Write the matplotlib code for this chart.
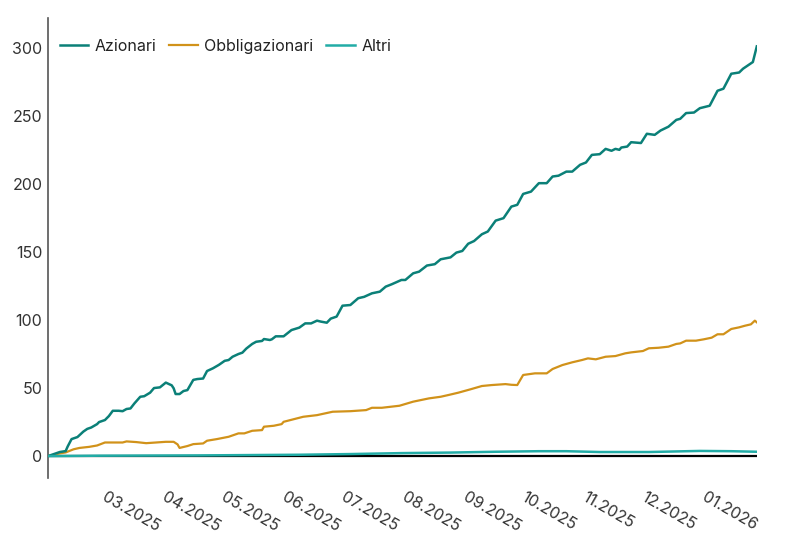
import matplotlib
matplotlib.use('Agg')
import matplotlib.pyplot as plt
import matplotlib.dates as mdates
import pandas as pd

plt.rcParams['font.family'] = ['Inter', 'DejaVu Sans']

#### DATA ####

az_dates = ['2025-02-03', '2025-02-09', '2025-02-12', '2025-02-13', '2025-02-15', '2025-02-18',
            '2025-02-21', '2025-02-23', '2025-02-25', '2025-02-28', '2025-03-01', '2025-03-04',
            '2025-03-06', '2025-03-08', '2025-03-11', '2025-03-13', '2025-03-15', '2025-03-17',
            '2025-03-19', '2025-03-22', '2025-03-24', '2025-03-27', '2025-03-29', '2025-04-01',
            '2025-04-04', '2025-04-07', '2025-04-08', '2025-04-09', '2025-04-11', '2025-04-13',
            '2025-04-15', '2025-04-18', '2025-04-20', '2025-04-23', '2025-04-25', '2025-04-28',
            '2025-05-01', '2025-05-04', '2025-05-06', '2025-05-08', '2025-05-11', '2025-05-13',
            '2025-05-15', '2025-05-18', '2025-05-20', '2025-05-23', '2025-05-24', '2025-05-27',
            '2025-05-28', '2025-05-30', '2025-06-03', '2025-06-07', '2025-06-11', '2025-06-14',
            '2025-06-17', '2025-06-20', '2025-06-22', '2025-06-25', '2025-06-27', '2025-06-30',
            '2025-07-03', '2025-07-07', '2025-07-11', '2025-07-14', '2025-07-18', '2025-07-22',
            '2025-07-25', '2025-07-28', '2025-08-02', '2025-08-04', '2025-08-08', '2025-08-11',
            '2025-08-15', '2025-08-19', '2025-08-22', '2025-08-27', '2025-08-30', '2025-09-02',
            '2025-09-05', '2025-09-08', '2025-09-12', '2025-09-15', '2025-09-19', '2025-09-23',
            '2025-09-27', '2025-09-30', '2025-10-03', '2025-10-07', '2025-10-11', '2025-10-15',
            '2025-10-18', '2025-10-21', '2025-10-25', '2025-10-28', '2025-11-01', '2025-11-04',
            '2025-11-07', '2025-11-11', '2025-11-14', '2025-11-17', '2025-11-19', '2025-11-21',
            '2025-11-22', '2025-11-25', '2025-11-27', '2025-12-02', '2025-12-05', '2025-12-09',
            '2025-12-12', '2025-12-16', '2025-12-20', '2025-12-22', '2025-12-25', '2025-12-29',
            '2026-01-01', '2026-01-06', '2026-01-10', '2026-01-13', '2026-01-17', '2026-01-21',
            '2026-01-23', '2026-01-28', '2026-01-30']
azionari = [0, 3, 3.7, 7, 12.5, 14,
            18, 20, 21, 23.5, 25, 26.5,
            29.4, 33.3, 33.3, 33, 34.6, 35,
            38.7, 43.6, 44, 46.6, 50, 50.5,
            54, 52, 49.8, 45.6, 45.6, 47.8,
            48.5, 56, 56.6, 57, 62.5, 64.5,
            67, 70, 70.6, 73, 75, 76,
            79, 82.4, 84, 84.6, 86, 85.3,
            85.8, 88, 88, 92.6, 94.4, 97.5,
            97.5, 99.5, 98.8, 98, 101, 102.5,
            110.5, 111, 116, 117, 119.6, 120.8,
            124.5, 126.2, 129.4, 129.4, 134.3, 135.5,
            140, 141, 144.6, 146, 149.5, 150.7,
            156, 158, 163, 165, 173, 174.8,
            183.3, 184.6, 192.6, 194.3, 200.5, 200.5,
            205.4, 206, 209, 209, 214, 215.7,
            221.3, 221.8, 225.7, 224.3, 225.7, 225,
            226.7, 227.4, 230.6, 230, 236.8, 236,
            239.2, 242, 247, 247.8, 252, 252.4,
            255.6, 257.4, 268.4, 269.9, 280.9, 281.8,
            284.6, 289.5, 301]

ob_dates = ['2025-02-03', '2025-02-09', '2025-02-12', '2025-02-16', '2025-02-19', '2025-02-24',
            '2025-02-28', '2025-03-04', '2025-03-08', '2025-03-13', '2025-03-15', '2025-03-20',
            '2025-03-25', '2025-03-30', '2025-04-04', '2025-04-08', '2025-04-10', '2025-04-11',
            '2025-04-15', '2025-04-18', '2025-04-23', '2025-04-25', '2025-04-30', '2025-05-06',
            '2025-05-11', '2025-05-14', '2025-05-18', '2025-05-23', '2025-05-24', '2025-05-29',
            '2025-06-02', '2025-06-03', '2025-06-13', '2025-06-20', '2025-06-28', '2025-07-07',
            '2025-07-15', '2025-07-18', '2025-07-23', '2025-08-01', '2025-08-08', '2025-08-16',
            '2025-08-22', '2025-08-26', '2025-08-31', '2025-09-06', '2025-09-12', '2025-09-17',
            '2025-09-24', '2025-09-27', '2025-09-30', '2025-10-03', '2025-10-09', '2025-10-15',
            '2025-10-18', '2025-10-23', '2025-10-28', '2025-11-02', '2025-11-05', '2025-11-09',
            '2025-11-14', '2025-11-19', '2025-11-24', '2025-11-27', '2025-12-03', '2025-12-06',
            '2025-12-11', '2025-12-16', '2025-12-20', '2025-12-22', '2025-12-25', '2025-12-30',
            '2026-01-03', '2026-01-07', '2026-01-10', '2026-01-13', '2026-01-17', '2026-01-21',
            '2026-01-24', '2026-01-27', '2026-01-29', '2026-01-30']
obbligazionari = [0, 2, 2.7, 5, 6, 6.8,
                  7.8, 10, 10, 10, 10.8, 10.3,
                  9.5, 10, 10.5, 10.5, 8.6, 6,
                  7.4, 8.8, 9.3, 11.3, 12.5, 14.2,
                  16.7, 16.7, 18.6, 19.1, 21.6, 22.3,
                  23.5, 25.2, 28.9, 30.1, 32.6, 33,
                  33.8, 35.5, 35.5, 37, 40, 42.4,
                  43.6, 44.9, 46.6, 49, 51.5, 52.2,
                  52.9, 52.4, 52.2, 59.6, 60.8, 60.8,
                  64, 66.9, 68.9, 70.6, 71.8, 71.1,
                  73, 73.5, 75.5, 76.2, 77.2, 79.2,
                  79.6, 80.4, 82.4, 82.8, 84.8, 84.8,
                  85.8, 87, 89.5, 89.5, 93.4, 94.6,
                  95.8, 96.8, 99.5, 98.3]

al_dates = ['2025-02-03', '2025-03-01', '2025-04-20', '2025-06-11', '2025-07-07', '2025-08-02',
            '2025-08-27', '2025-09-19', '2025-10-11', '2025-10-25', '2025-11-11', '2025-12-06',
            '2026-01-01', '2026-01-17', '2026-01-30']
altri = [0, 0.3, 0.5, 1.0, 1.5, 2.2,
         2.6, 3.2, 3.6, 3.6, 3.0, 3.0,
         3.8, 3.6, 3.2]

series_names = ['Azionari', 'Obbligazionari', 'Altri']
colors = ['#0b8078', '#d1921a', '#22aca6']
yticks = [0, 50, 100, 150, 200, 250, 300]

#### PLOT ####

fig = plt.figure(figsize=(8, 5.56), dpi=100)
ax = fig.add_axes([0.06, 0.14, 0.886, 0.828])

az_x = pd.to_datetime(az_dates)
ob_x = pd.to_datetime(ob_dates)
al_x = pd.to_datetime(al_dates)

ax.plot(az_x, azionari, c=colors[0], lw=1.8, label=series_names[0], zorder=4)
ax.plot(ob_x, obbligazionari, c=colors[1], lw=1.6, label=series_names[1], zorder=3)
ax.plot(al_x, altri, c=colors[2], lw=1.8, label=series_names[2], zorder=5)

# zero line
ax.plot([az_x[0], az_x[-1]], [0, 0], c='k', lw=1.6, zorder=2)

ax.set_xlim(az_x[0], az_x[-1])
ax.set_ylim(-16.2, 322)
ax.set_yticks(yticks)

ax.xaxis.set_major_locator(mdates.MonthLocator(bymonthday=1))
ax.xaxis.set_major_formatter(mdates.DateFormatter('%m.%Y'))

for side in ['top', 'right', 'bottom']:
    ax.spines[side].set_visible(False)
ax.spines['left'].set_color('#555555')
ax.spines['left'].set_linewidth(1.2)

ax.tick_params(axis='both', length=0, labelsize=11.5, labelcolor='#333333')
ax.tick_params(axis='y', pad=4)
ax.tick_params(axis='x', pad=8)
for lab in ax.get_xticklabels():
    lab.set_rotation(-30)
    lab.set_ha('left')
    lab.set_va('top')

ax.legend(loc='upper left', bbox_to_anchor=(-0.004, 0.985), ncol=3, frameon=False, fontsize=11.5,
          handlelength=1.8, handletextpad=0.4, columnspacing=0.8, labelcolor='#222222')

plt.savefig('out.png', dpi=100)
